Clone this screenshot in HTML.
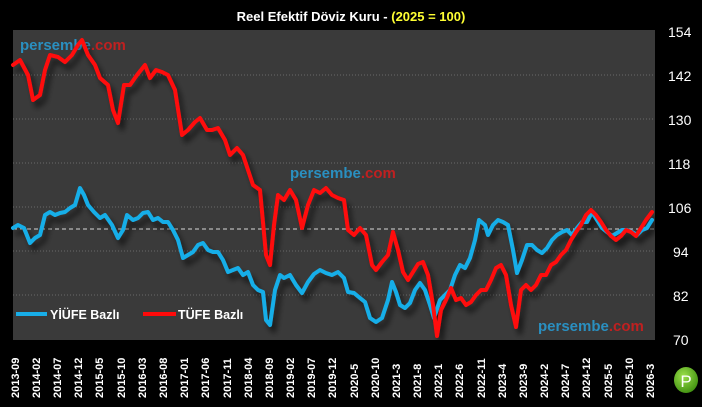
<!DOCTYPE html>
<html><head><meta charset="utf-8"><style>
html,body{margin:0;padding:0;background:#000;}
body{width:702px;height:402px;overflow:hidden;position:relative;font-family:"Liberation Sans",sans-serif;}
</style></head><body>
<svg width="702" height="402" viewBox="0 0 702 402" xmlns="http://www.w3.org/2000/svg">
<defs>
<filter id="sh" x="-10%" y="-10%" width="120%" height="130%">
<feGaussianBlur in="SourceAlpha" stdDeviation="3"/>
<feOffset dx="4" dy="6" result="o"/>
<feComponentTransfer><feFuncA type="linear" slope="0.6"/></feComponentTransfer>
<feMerge><feMergeNode/><feMergeNode in="SourceGraphic"/></feMerge>
</filter>
<radialGradient id="gP" cx="40%" cy="35%" r="70%"><stop offset="0" stop-color="#9be04a"/><stop offset="1" stop-color="#3f8f10"/></radialGradient>
</defs>
<rect x="0" y="0" width="702" height="402" fill="#000"/>
<text x="351" y="21" fill="#fff" font-size="13" font-weight="bold" text-anchor="middle">Reel Efektif Döviz Kuru - <tspan fill="#ffff33">(2025 = 100)</tspan></text>
<rect x="13" y="30" width="642" height="310" fill="#3a3a3a"/>
<g stroke="#6a6a6a" stroke-width="1" stroke-dasharray="1,2">
<line x1="13" x2="655" y1="75" y2="75"/><line x1="13" x2="655" y1="119" y2="119"/><line x1="13" x2="655" y1="163" y2="163"/><line x1="13" x2="655" y1="207" y2="207"/><line x1="13" x2="655" y1="251" y2="251"/><line x1="13" x2="655" y1="295" y2="295"/>
</g>
<line x1="13" x2="655" y1="229" y2="229" stroke="#d8d8d8" stroke-width="1" stroke-dasharray="4,3"/>
<text x="20" y="50" font-size="15" font-weight="bold" fill="#2a8fc0">persembe<tspan fill="#c02020">.com</tspan></text>
<text x="290" y="178" font-size="15" font-weight="bold" fill="#2a8fc0">persembe<tspan fill="#c02020">.com</tspan></text>
<text x="538" y="331" font-size="15" font-weight="bold" fill="#2a8fc0">persembe<tspan fill="#c02020">.com</tspan></text>
<g fill="none" stroke-width="4" stroke-linejoin="round" stroke-linecap="round" filter="url(#sh)">
<polyline stroke="#18aee8" points="13,228 18,225 24,228 30,243 35,238 40,235 45,215 50,212 55,215 60,213 65,212 70,208 75,205 80,188 84,195 88,205 94,212 100,218 105,215 112,225 118,238 123,230 127,215 133,220 138,218 143,213 148,212 153,220 158,218 163,222 168,222 173,230 178,240 183,258 188,255 193,252 198,245 203,243 208,250 213,252 218,252 223,260 228,272 233,270 238,268 243,275 248,272 253,285 258,290 263,292 266,320 270,325 275,290 280,275 284,278 290,275 296,285 302,293 308,282 314,274 320,270 326,273 332,275 338,272 344,278 348,292 354,293 360,298 365,302 370,318 376,322 382,318 388,300 392,282 396,292 400,305 405,308 410,303 415,290 420,283 425,290 430,305 434,318 440,300 445,295 450,290 455,275 460,265 465,268 470,258 475,240 479,220 485,225 488,235 493,225 498,220 503,222 508,225 513,250 517,273 522,260 527,245 532,245 537,250 542,253 547,248 552,240 557,235 562,232 567,230 572,235 577,228 582,222 587,222 592,212 597,220 602,228 607,232 612,236 617,233 622,230 627,230 632,232 637,235 642,230 647,228 652,220"/>
<polyline stroke="#ff0a0a" points="13,65 20,60 28,75 33,100 40,95 45,70 50,55 58,57 65,62 72,55 78,45 82,40 88,55 95,65 100,78 108,85 113,110 118,123 124,85 130,85 137,75 145,65 150,78 156,70 162,72 168,75 175,90 182,135 188,130 195,122 200,118 207,130 212,130 218,128 225,140 230,155 237,148 243,155 248,170 253,185 260,190 266,255 270,265 274,225 278,195 284,200 290,190 296,200 302,228 308,205 314,190 320,193 326,188 332,195 338,198 344,200 348,230 354,235 360,228 366,235 372,265 376,270 382,262 388,255 393,232 398,250 403,272 408,280 413,272 418,264 423,262 428,275 433,305 437,336 441,310 446,300 451,288 456,300 461,298 466,305 471,302 476,295 481,290 486,290 491,280 496,268 501,265 506,275 511,305 516,327 521,290 526,285 531,290 536,285 541,275 546,275 551,265 556,262 561,255 566,250 571,240 576,232 581,225 586,215 591,210 596,215 601,222 606,230 611,236 616,240 621,236 626,230 631,232 636,236 641,228 646,220 652,212"/>
</g>
<line x1="16" y1="314" x2="47" y2="314" stroke="#18aee8" stroke-width="4"/>
<text x="50" y="319" font-size="12.5" font-weight="bold" fill="#fff">YİÜFE Bazlı</text>
<line x1="143" y1="314" x2="176" y2="314" stroke="#ff0a0a" stroke-width="4"/>
<text x="178" y="319" font-size="12.5" font-weight="bold" fill="#fff">TÜFE Bazlı</text>
<g fill="#fff" font-size="14" font-family="Liberation Sans Narrow,Liberation Sans,sans-serif">
<text x="668" y="37">154</text><text x="668" y="81">142</text><text x="668" y="125">130</text><text x="668" y="169">118</text><text x="668" y="213">106</text><text x="673" y="257">94</text><text x="673" y="301">82</text><text x="673" y="345">70</text>
</g>
<g fill="#fff" font-size="11" font-weight="bold">
<text transform="translate(19,398) rotate(-90)">2013-09</text>
<text transform="translate(40,398) rotate(-90)">2014-02</text>
<text transform="translate(61,398) rotate(-90)">2014-07</text>
<text transform="translate(82,398) rotate(-90)">2014-12</text>
<text transform="translate(103,398) rotate(-90)">2015-05</text>
<text transform="translate(125,398) rotate(-90)">2015-10</text>
<text transform="translate(146,398) rotate(-90)">2016-03</text>
<text transform="translate(167,398) rotate(-90)">2016-08</text>
<text transform="translate(188,398) rotate(-90)">2017-01</text>
<text transform="translate(209,398) rotate(-90)">2017-06</text>
<text transform="translate(231,398) rotate(-90)">2017-11</text>
<text transform="translate(252,398) rotate(-90)">2018-04</text>
<text transform="translate(273,398) rotate(-90)">2018-09</text>
<text transform="translate(294,398) rotate(-90)">2019-02</text>
<text transform="translate(315,398) rotate(-90)">2019-07</text>
<text transform="translate(336,398) rotate(-90)">2019-12</text>
<text transform="translate(358,398) rotate(-90)">2020-5</text>
<text transform="translate(379,398) rotate(-90)">2020-10</text>
<text transform="translate(400,398) rotate(-90)">2021-3</text>
<text transform="translate(421,398) rotate(-90)">2021-8</text>
<text transform="translate(442,398) rotate(-90)">2022-1</text>
<text transform="translate(463,398) rotate(-90)">2022-6</text>
<text transform="translate(485,398) rotate(-90)">2022-11</text>
<text transform="translate(506,398) rotate(-90)">2023-4</text>
<text transform="translate(527,398) rotate(-90)">2023-9</text>
<text transform="translate(548,398) rotate(-90)">2024-2</text>
<text transform="translate(569,398) rotate(-90)">2024-7</text>
<text transform="translate(590,398) rotate(-90)">2024-12</text>
<text transform="translate(612,398) rotate(-90)">2025-5</text>
<text transform="translate(633,398) rotate(-90)">2025-10</text>
<text transform="translate(654,398) rotate(-90)">2026-3</text>
</g>
<ellipse cx="686" cy="380" rx="12" ry="13" fill="url(#gP)"/>
<text x="686" y="387" fill="#fff" font-size="17" text-anchor="middle">P</text>
</svg>
</body></html>
